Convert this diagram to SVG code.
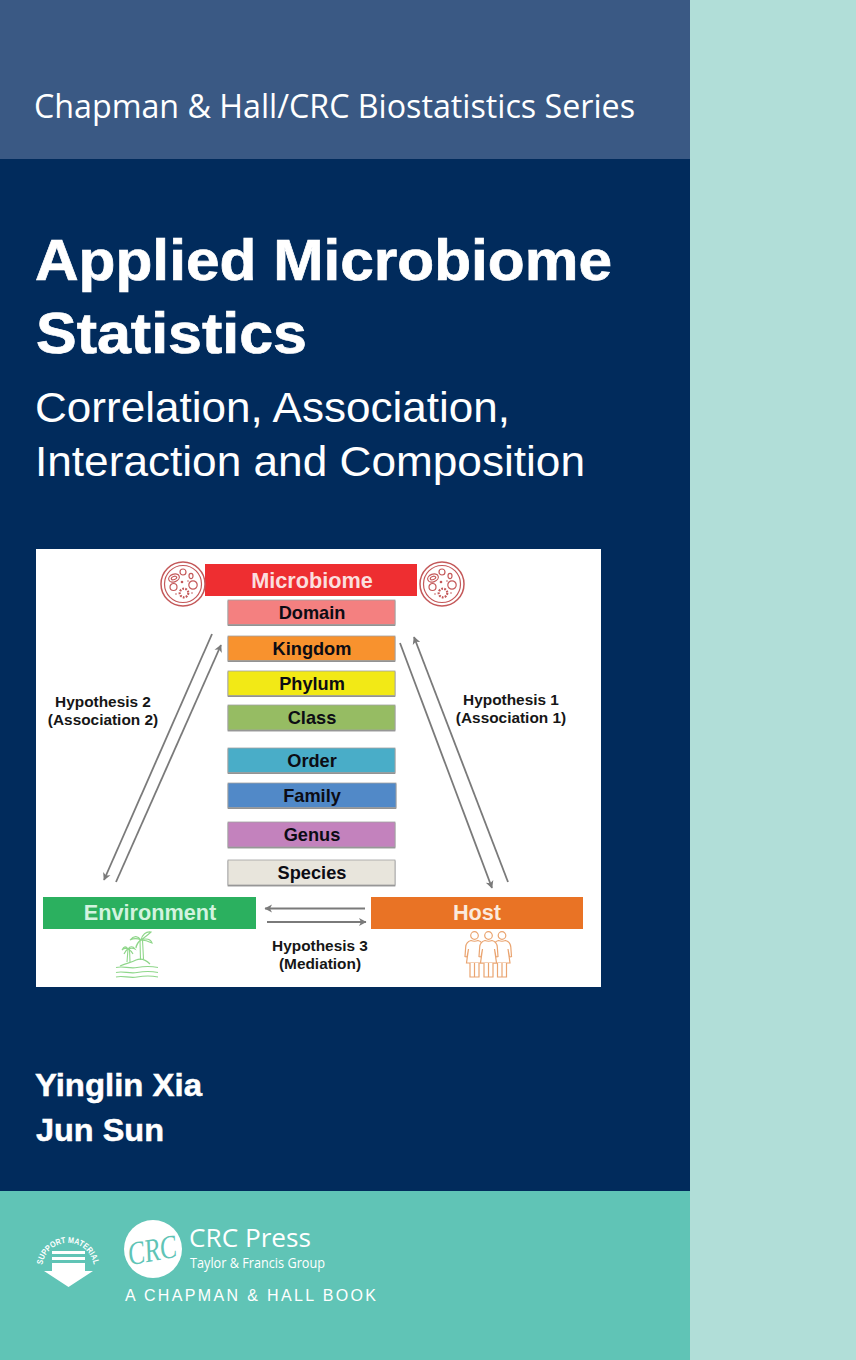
<svg xmlns="http://www.w3.org/2000/svg" xmlns:xlink="http://www.w3.org/1999/xlink" width="856" height="1360" viewBox="0 0 856 1360">
<style>
.s{font-family:"Liberation Sans",Arial,sans-serif}
.c{font-family:"Open Sans","Noto Sans",sans-serif}
.b{font-weight:700}
.w{fill:#fff;stroke:#fff;stroke-width:.7}
.r{font-family:"Liberation Sans",Arial,sans-serif;font-weight:700;font-size:18.200px;text-anchor:middle;fill:#0c0c14}
.h{font-family:"Liberation Sans",Arial,sans-serif;font-weight:700;font-size:15.400px;text-anchor:middle;fill:#161616}
.big{font-family:"Liberation Sans",Arial,sans-serif;font-weight:700;font-size:21.700px;text-anchor:middle}
.box{stroke:#a0a0a0;stroke-width:.8;filter:url(#sh)}
.a{fill:none;stroke:#7a7a7a;stroke-width:1.8}
.t{fill:none;stroke:#c4595a;stroke-width:1.2}
.g{fill:none;stroke:#8fd68a;stroke-width:1.1}
.o{fill:none;stroke:#eaa470;stroke-width:1.2}
.of{fill:#fff;stroke:#eaa470;stroke-width:1.2}
</style>
<defs>
<filter id="sh" x="-5%" y="-15%" width="110%" height="140%">
<feDropShadow dx="0" dy="1" stdDeviation="0.700" flood-color="#555" flood-opacity="0.700"/>
</filter>
<marker id="ah" markerWidth="10" markerHeight="10" refX="7.500" refY="4.500" orient="auto" markerUnits="userSpaceOnUse">
<path d="M0.500 0.500L8 4.500L0.500 8.500L2.500 4.500Z" fill="#7a7a7a"/>
</marker>
<g id="dish">
<circle r="22" class="t" style="stroke-width:1.500"/>
<circle r="18.500" class="t"/>
<ellipse cx="-9" cy="-6" rx="5.500" ry="3.800" class="t" transform="rotate(-20 -9 -6)"/>
<ellipse cx="-9" cy="-6" rx="2.800" ry="1.600" class="t" transform="rotate(-20 -9 -6)"/>
<circle cx="0" cy="-12" r="3" class="t"/>
<ellipse cx="8" cy="-8" rx="2" ry="2.600" class="t"/>
<circle cx="10" cy="1" r="4.200" class="t"/>
<circle cx="-9.500" cy="3" r="3.500" class="t"/>
<circle cx="1" cy="9" r="4.300" class="t" style="stroke-width:2.200;stroke-dasharray:1.800 1.200"/>
<circle cx="-1" cy="-2" r="1.300" fill="#c4595a"/>
<circle cx="-7" cy="10" r="0.800" fill="#c4595a"/>
<circle cx="5" cy="-3" r="0.800" fill="#c4595a"/>
<circle cx="9" cy="9" r="0.800" fill="#c4595a"/>
</g>
<g id="person">
<circle cx="0" cy="-16.500" r="3.800" class="o"/>
<path class="of" d="M-3.500 -11.500C-7 -10.500-8.500-9-8.800-5L-9.500 4.500-7.500 5-6 -3-8 11H8L6-3 7.500 5 9.500 4.500 8.800-5C8.500-9 7-10.500 3.500-11.500Q0-10-3.500-11.500Z"/>
<path class="of" d="M-4.500 11V25H0V11M4.500 11V25H0V11"/>
</g>
</defs>

<rect id="bg" width="856" height="1360" fill="#b1ded8"/>
<rect id="band-top" width="690" height="159" fill="#3a5984"/>
<rect id="band-main" y="159" width="690" height="1032" fill="#012b5c"/>
<rect id="band-bottom" y="1191" width="690" height="169" fill="#60c4b6"/>

<text class="c" x="34" y="118" font-size="32.500" fill="#fff" textLength="601" lengthAdjust="spacingAndGlyphs">Chapman &amp; Hall/CRC Biostatistics Series</text>
<text class="s b w" x="35" y="280" font-size="57" textLength="577" lengthAdjust="spacingAndGlyphs">Applied Microbiome</text>
<text class="s b w" x="36" y="353" font-size="57" textLength="271" lengthAdjust="spacingAndGlyphs">Statistics</text>
<text class="s" x="35" y="422" font-size="43" fill="#fff" textLength="475" lengthAdjust="spacingAndGlyphs">Correlation, Association,</text>
<text class="s" x="35" y="476" font-size="43" fill="#fff" textLength="550" lengthAdjust="spacingAndGlyphs">Interaction and Composition</text>

<rect id="panel" x="36" y="549" width="565" height="438" fill="#fff"/>

<g id="connectors">
<line class="a" x1="212" y1="634" x2="104" y2="880" marker-end="url(#ah)"/>
<line class="a" x1="116" y1="882" x2="221" y2="645" marker-end="url(#ah)"/>
<line class="a" x1="400" y1="643" x2="492" y2="888" marker-end="url(#ah)"/>
<line class="a" x1="508" y1="882" x2="414" y2="637" marker-end="url(#ah)"/>
<line class="a" x1="365" y1="908.500" x2="265" y2="908.500" marker-end="url(#ah)"/>
<line class="a" x1="267" y1="922" x2="366" y2="922" marker-end="url(#ah)"/>
</g>

<g id="microbiome"><rect x="205" y="564" width="212" height="32" fill="#ee2e31"/><text class="big" x="312" y="588" fill="#fbdede">Microbiome</text></g>
<g id="icon-dish-left"><use xlink:href="#dish" href="#dish" x="183" y="584"/></g>
<g id="icon-dish-right"><use xlink:href="#dish" href="#dish" x="442" y="584"/></g>
<g id="domain"><rect class="box" x="228" y="600" width="167" height="24.500" fill="#f48080"/><text class="r" x="312" y="619">Domain</text></g>
<g id="kingdom"><rect class="box" x="228" y="636" width="167" height="24.500" fill="#f8922e"/><text class="r" x="312" y="655">Kingdom</text></g>
<g id="phylum"><rect class="box" x="228" y="671" width="167" height="24.500" fill="#f2e918"/><text class="r" x="312" y="690">Phylum</text></g>
<g id="class"><rect class="box" x="228" y="705" width="167" height="25" fill="#96bc63"/><text class="r" x="312" y="724">Class</text></g>
<g id="order"><rect class="box" x="228" y="748" width="167" height="24.500" fill="#4aadc8"/><text class="r" x="312" y="767">Order</text></g>
<g id="family"><rect class="box" x="228" y="783" width="168" height="24.500" fill="#5189c8"/><text class="r" x="312" y="802">Family</text></g>
<g id="genus"><rect class="box" x="228" y="822" width="167" height="25" fill="#c382bd"/><text class="r" x="312" y="841">Genus</text></g>
<g id="species"><rect class="box" x="228" y="860" width="167" height="25" fill="#e8e5dc"/><text class="r" x="312" y="879">Species</text></g>

<g id="environment"><rect x="43" y="897" width="213" height="32" fill="#2bb05f"/><text class="big" x="150" y="920" fill="#d2f3df">Environment</text></g>
<g id="host"><rect x="371" y="897" width="212" height="32" fill="#e97325"/><text class="big" x="477" y="920" fill="#fbeadc">Host</text></g>

<g id="label-h2"><text class="h" x="103" y="707">Hypothesis 2</text><text class="h" x="103" y="725">(Association 2)</text></g>
<g id="label-h1"><text class="h" x="511" y="705">Hypothesis 1</text><text class="h" x="511" y="723">(Association 1)</text></g>
<g id="label-h3"><text class="h" x="320" y="951">Hypothesis 3</text><text class="h" x="320" y="969">(Mediation)</text></g>

<g id="icon-island">
<path class="g" d="M116 967.500C123 965.500 129 969 137 967.500S151 966 158 967.500M116 972.500C123 970.500 129 974 137 972.500S151 971 158 972.500M116 977C123 975 129 978.500 137 977S151 975.500 158 977"/>
<path class="g" d="M120 966C126 963 131 963 136 960C141 958 146 960 150 964"/>
<path class="g" d="M127 962L128 949M130 962L129.500 949M140.500 960L140 940M143.500 959L142.500 940"/>
<path class="g" d="M141 940C138 936 134 935 130 940C134 938 137 938 141 940C142 935 146 931 151 932C148 935 145 937 141 940C146 938 151 939 152 943C148 941 145 940 141 940C138 942 137 944 136 948C136 944 138 942 141 940"/>
<path class="g" d="M128 949C126 946 124 946 122 950C124 948 126 948 128 949C130 946 133 946 135 949C133 948 131 948 128 949C126 950 125 952 124 954M128 949C130 950 132 952 133 954"/>
</g>
<g id="icon-people">
<use xlink:href="#person" href="#person" x="474.500" y="952"/>
<use xlink:href="#person" href="#person" x="502" y="952"/>
<use xlink:href="#person" href="#person" x="488.500" y="952"/>
</g>

<text class="s b" x="35" y="1096" font-size="32" fill="#fff" stroke="#fff" stroke-width=".5" textLength="167" lengthAdjust="spacingAndGlyphs">Yinglin Xia</text>
<text class="s b" x="36" y="1141" font-size="32" fill="#fff" stroke="#fff" stroke-width=".5" textLength="128" lengthAdjust="spacingAndGlyphs">Jun Sun</text>

<g id="logo-support">
<path id="arc" d="M42.300 1265A26 26 0 0 1 93.700 1265" fill="none"/>
<text class="s b" font-size="8.500" fill="#fff"><textPath href="#arc" xlink:href="#arc" textLength="73" lengthAdjust="spacingAndGlyphs">SUPPORT MATERIAL</textPath></text>
<path fill="#fff" d="M52 1251H85V1254H52ZM52 1257H85V1260H52ZM52 1263H85V1271H93L68.500 1287L44 1271H52Z"/>
</g>
<g id="logo-crc">
<circle cx="153" cy="1249" r="29" fill="#fff"/>
<text x="153" y="1261" font-family="'Liberation Serif',serif" font-style="italic" font-size="33" fill="#60c4b6" text-anchor="middle" textLength="49" lengthAdjust="spacingAndGlyphs" transform="rotate(-10 153 1256)">CRC</text>
<text class="c" x="189" y="1247" font-size="26" fill="#fff" textLength="122" lengthAdjust="spacingAndGlyphs">CRC Press</text>
<text class="c" x="190" y="1268" font-size="14" fill="#fff" textLength="135" lengthAdjust="spacingAndGlyphs">Taylor &amp; Francis Group</text>
<text class="s" x="125" y="1301" font-size="16" fill="#fff" textLength="251" lengthAdjust="spacing">A CHAPMAN &amp; HALL BOOK</text>
</g>
</svg>
